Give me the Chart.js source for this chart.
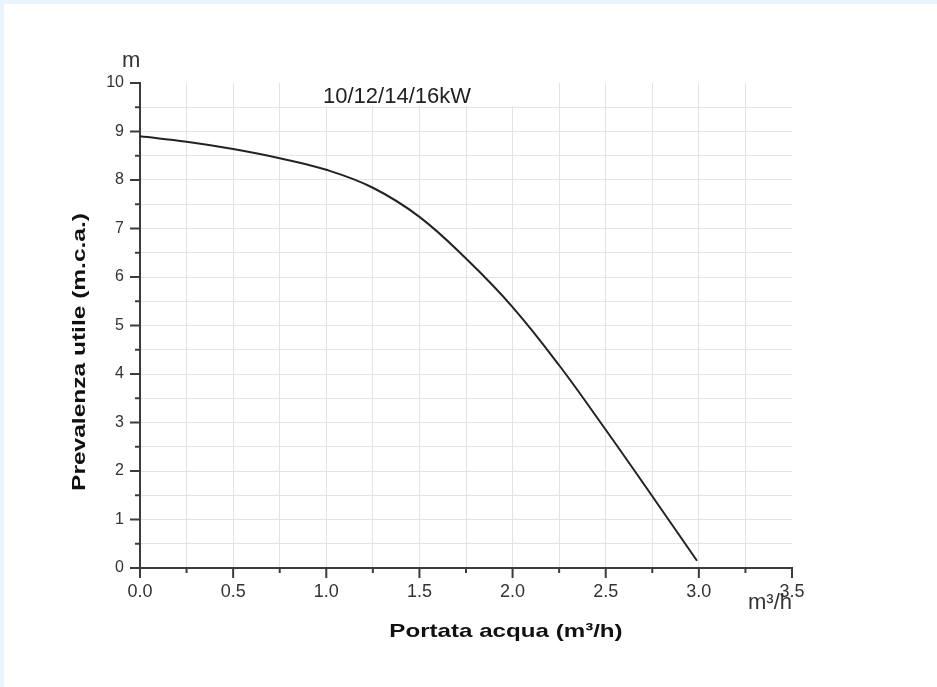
<!DOCTYPE html>
<html>
<head>
<meta charset="utf-8">
<script src="https://cdn.jsdelivr.net/npm/chart.js@4.4.1/dist/chart.umd.min.js"></script>
<style>
    html, body { margin: 0; padding: 0; background: #ffffff; }
    #frame {
        position: absolute; left: 0; top: 0; width: 937px; height: 687px;
        box-sizing: border-box; border-top: 4px solid #e8f5fd; border-left: 4px solid #e8f5fd;
    }
    #chart { position: absolute; left: 0; top: 0; }
</style>
</head>
<body>
<div id="frame"></div>
<canvas id="chart" width="937" height="687"></canvas>
<script>
// Pump curve (flow in m3/h, head in m)
const flowValues = [0, 0.25, 0.5, 0.75, 1.0, 1.25, 1.5, 1.75, 2.0, 2.25, 2.5, 2.75, 2.99];
const headValues = [8.9, 8.79, 8.64, 8.45, 8.21, 7.84, 7.24, 6.38, 5.38, 4.18, 2.85, 1.48, 0.15];

const xTicks = [0, 0.5, 1.0, 1.5, 2.0, 2.5, 3.0, 3.5];
const yTicks = [0, 1, 2, 3, 4, 5, 6, 7, 8, 9, 10];

const chartTitle = '10/12/14/16kW';
const xTitle = 'Portata acqua (m³/h)';
const yTitle = 'Prevalenza utile (m.c.a.)';
const yUnit = 'm';
const xUnit = 'm³/h';

const axisColor = '#3c3c3c';
const gridColor = '#e3e3e3';
const labelColor = '#333333';
const fontFamily = '"Liberation Sans", Arial, sans-serif';

const points = flowValues.map((x, i) => ({ x: x, y: headValues[i] }));

// tick marks: long on labelled values, short in between
const tickMarks = {
    id: 'tickMarks',
    afterDraw(chart) {
        const ctx = chart.ctx;
        const xs = chart.scales.x;
        const ys = chart.scales.y;
        const area = chart.chartArea;
        ctx.save();
        ctx.strokeStyle = axisColor;
        ctx.lineWidth = 2;
        xs.ticks.forEach(t => {
            const px = xs.getPixelForValue(t.value);
            const len = xTicks.includes(t.value) ? 10 : 5;
            ctx.beginPath();
            ctx.moveTo(px, area.bottom);
            ctx.lineTo(px, area.bottom + len);
            ctx.stroke();
        });
        ys.ticks.forEach(t => {
            const py = ys.getPixelForValue(t.value);
            const len = yTicks.includes(t.value) ? 10 : 5;
            ctx.beginPath();
            ctx.moveTo(area.left, py);
            ctx.lineTo(area.left - len, py);
            ctx.stroke();
        });
        ctx.restore();
    }
};

// text around the plot: title box, units and axis titles
const annotations = {
    id: 'annotations',
    beforeDatasetsDraw(chart) {
        const ctx = chart.ctx;
        ctx.save();
        ctx.fillStyle = '#ffffff';
        ctx.fillRect(313, 79, 232, 27);
        ctx.fillStyle = '#222222';
        ctx.font = '22px ' + fontFamily;
        ctx.textBaseline = 'alphabetic';
        ctx.textAlign = 'left';
        ctx.fillText(chartTitle, 323, 103);
        ctx.restore();
    },
    afterDraw(chart) {
        const ctx = chart.ctx;
        ctx.save();
        ctx.fillStyle = labelColor;
        ctx.font = '22px ' + fontFamily;
        ctx.textBaseline = 'alphabetic';
        ctx.textAlign = 'left';
        ctx.fillText(yUnit, 122, 67);
        ctx.fillText(xUnit, 748, 609);
        ctx.restore();

        // axis titles are a bit stretched along the text in the original
        ctx.save();
        ctx.fillStyle = '#111111';
        ctx.font = 'bold 19px ' + fontFamily;
        ctx.textAlign = 'center';
        ctx.textBaseline = 'middle';
        ctx.translate(506, 632);
        ctx.scale(1.27, 1);
        ctx.fillText(xTitle, 0, 0);
        ctx.restore();

        ctx.save();
        ctx.fillStyle = '#111111';
        ctx.font = 'bold 19px ' + fontFamily;
        ctx.textAlign = 'center';
        ctx.textBaseline = 'middle';
        ctx.translate(80, 352);
        ctx.rotate(-Math.PI / 2);
        ctx.scale(1.29, 1);
        ctx.fillText(yTitle, 0, 0);
        ctx.restore();
    }
};

new Chart(document.getElementById('chart'), {
    type: 'line',
    data: {
        datasets: [{
            data: points,
            borderColor: '#222222',
            borderWidth: 2,
            pointRadius: 0,
            fill: false,
            tension: 0.4
        }]
    },
    options: {
        responsive: false,
        animation: false,
        events: [],
        layout: { padding: { left: 80, top: 83, right: 145, bottom: 59 } },
        plugins: {
            legend: { display: false },
            tooltip: { enabled: false },
            title: { display: false }
        },
        scales: {
            x: {
                type: 'linear',
                min: 0,
                max: 3.5,
                afterFit: scale => { scale.height = 60; },
                border: { color: axisColor, width: 2 },
                grid: {
                    drawTicks: false,
                    color: ctx => (ctx.tick && (ctx.tick.value === 0 || ctx.tick.value === 3.5)) ? 'rgba(0,0,0,0)' : gridColor,
                    lineWidth: 1
                },
                ticks: {
                    stepSize: 0.25,
                    autoSkip: false,
                    maxRotation: 0,
                    padding: 13,
                    color: labelColor,
                    font: { family: fontFamily, size: 18 },
                    callback: value => xTicks.includes(value) ? value.toFixed(1) : ''
                }
            },
            y: {
                type: 'linear',
                min: 0,
                max: 10,
                afterFit: scale => { scale.width = 60; },
                border: { color: axisColor, width: 2 },
                grid: {
                    drawTicks: false,
                    color: ctx => (ctx.tick && (ctx.tick.value === 0 || ctx.tick.value === 10)) ? 'rgba(0,0,0,0)' : gridColor,
                    lineWidth: 1
                },
                ticks: {
                    stepSize: 0.5,
                    autoSkip: false,
                    padding: 16,
                    color: labelColor,
                    font: { family: fontFamily, size: 16 },
                    callback: value => yTicks.includes(value) ? String(value) : ''
                }
            }
        }
    },
    plugins: [tickMarks, annotations]
});
</script>
</body>
</html>
